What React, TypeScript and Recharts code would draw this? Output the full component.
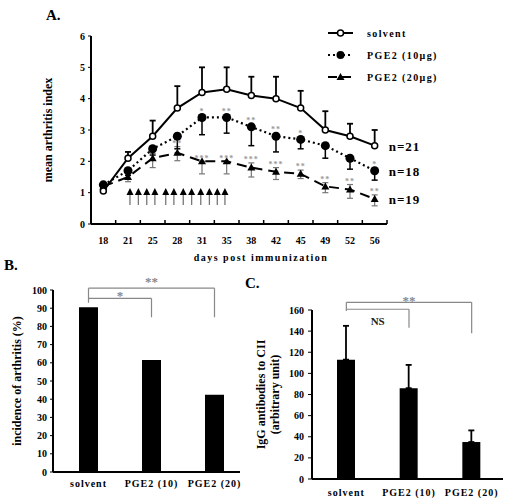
import React from 'react';
import {
  ComposedChart, Line, Scatter, XAxis, YAxis, ErrorBar, LabelList, Legend,
  BarChart, Bar, ReferenceLine,
} from 'recharts';

// ---- panel A: mean arthritis index over time ----
const days = ['18', '21', '25', '28', '31', '35', '38', '42', '45', '49', '52', '56'];
const solvent = [1.05, 2.1, 2.8, 3.7, 4.2, 4.3, 4.1, 4.0, 3.7, 3.0, 2.8, 2.5];
const solventSem = [0.1, 0.2, 0.5, 0.7, 0.8, 0.7, 0.6, 0.7, 0.55, 0.6, 0.4, 0.5];
const pge10 = [1.25, 1.7, 2.4, 2.8, 3.4, 3.4, 3.1, 2.8, 2.7, 2.5, 2.1, 1.7];
const pge10Sem = [0.1, 0.15, 0.2, 0.4, 0.55, 0.5, 0.6, 0.5, 0.3, 0.4, 0.35, 0.3];
const pge20 = [1.2, 1.5, 2.1, 2.27, 2.0, 2.0, 1.8, 1.67, 1.6, 1.2, 1.1, 0.8];
const pge20Low = [0.05, 0.15, 0.3, 0.25, 0.4, 0.4, 0.3, 0.25, 0.15, 0.2, 0.28, 0.22];
const pge20High = [0.05, 0.1, 0.15, 0.2, 0, 0, 0.15, 0.13, 0.12, 0.12, 0.16, 0.13];
const stars10 = ['', '', '', '', '*', '**', '**', '**', '*', '', '', '*'];
const stars20 = ['', '', '', '**', '***', '***', '***', '***', '**', '**', '**', '**'];
const groupN = [21, 18, 19];
// injection arrows, in category-index units along the day axis
const injectionPos = [1.08, 1.42, 1.76, 2.09, 2.53, 2.86, 3.24, 3.58, 3.95, 4.3, 4.62, 4.93];

// ---- panel B: incidence ----
const groups = ['solvent', 'PGE2 (10)', 'PGE2 (20)'];
const incidence = [90.5, 61.5, 42.5];

// ---- panel C: IgG anti-CII ----
const igg = [113, 86, 35];
const iggSem = [32, 22, 11];

const last = days.length - 1;
const arthritisRows = days.map((d, i) => ({
  idx: i,
  day: d,
  solvent: solvent[i],
  solventErr: [0, solventSem[i]],
  pge10: pge10[i],
  pge10Err: [pge10Sem[i], 0],
  pge20: pge20[i],
  pge20Err: [pge20Low[i], pge20High[i]],
  star10: stars10[i],
  star10Y: pge10[i] + 0.22,
  star20: stars20[i],
  star20Y: pge20[i] + pge20High[i] + 0.12,
  nSolvent: i === last ? `n=${groupN[0]}` : '',
  n10: i === last ? `n=${groupN[1]}` : '',
  n20: i === last ? `n=${groupN[2]}` : '',
}));
const arrowRows = injectionPos.map((p) => ({ idx: p, y: 1.15 }));
const dayTicks = days.flatMap((_, i) => [i - 0.5, i]).concat(days.length - 0.5);

const incidenceRows = groups.map((g, i) => ({ name: g, incidence: incidence[i] }));
const iggRows = groups.map((g, i) => ({ name: g, igg: igg[i], err: [0, iggSem[i]] }));

const FONT = "'Liberation Serif', 'DejaVu Serif', serif";
const axisLine = { stroke: '#000', strokeWidth: 2 };
const tickStyle = { fontSize: 10, fill: '#000', fontWeight: 'bold', fontFamily: FONT };

const DayTick = (props: any) => {
  const { x, y, payload } = props;
  const v = payload.value;
  if (Number.isInteger(v)) {
    return (
      <text x={x} y={y + 20} textAnchor="middle" fontSize={10} fontWeight="bold" fill="#000" fontFamily={FONT}>
        {days[v]}
      </text>
    );
  }
  return <line x1={x} x2={x} y1={y - 4} y2={y} stroke="#000" strokeWidth={1.5} />;
};

const CatTick = (props: any) => {
  const { x, y, payload } = props;
  return (
    <text x={x} y={y + 7} textAnchor="middle" fontSize={10} fontWeight="bold" fill="#000"
      fontFamily={FONT} letterSpacing={1}>
      {payload.value}
    </text>
  );
};

const YTitle = (props: any) => {
  const { viewBox, lines, dx, size } = props;
  const cx = viewBox.x + dx;
  const cy = viewBox.y + viewBox.height / 2;
  return (
    <text x={cx} y={cy} transform={`rotate(-90 ${cx} ${cy})`} textAnchor="middle" fontSize={size}
      fontWeight="bold" fill="#000" fontFamily={FONT}>
      {lines.map((l: string, i: number) => (
        <tspan key={l} x={cx} dy={i === 0 ? 0 : 14}>{l}</tspan>
      ))}
    </text>
  );
};

const XTitle = (props: any) => {
  const { viewBox } = props;
  return (
    <text x={viewBox.x + viewBox.width / 2 + 22} y={viewBox.y + 37} textAnchor="middle" fontSize={10}
      fontWeight="bold" fill="#000" fontFamily={FONT} letterSpacing={1.5}>
      days post immunization
    </text>
  );
};

const StarText = (props: any) => {
  const { x, y, value } = props;
  if (!value) return null;
  return (
    <text x={x} y={y + 3} textAnchor="middle" fontSize={8} fill="#999" fontFamily={FONT} letterSpacing={1}>
      {value}
    </text>
  );
};

const NText = (props: any) => {
  const { x, y, value } = props;
  if (!value) return null;
  return (
    <text x={x + 14} y={y + 5} fontSize={13} fontWeight="bold" fill="#000" fontFamily={FONT} letterSpacing={1}>
      {value}
    </text>
  );
};

const TriangleDot = (props: any) => {
  const { cx, cy } = props;
  return <polygon points={`${cx},${cy - 4} ${cx - 4},${cy + 3} ${cx + 4},${cy + 3}`} fill="#000" />;
};

const InjectionArrow = (props: any) => {
  const { cx, cy } = props;
  return (
    <g>
      <line x1={cx} x2={cx} y1={cy + 5} y2={cy + 17} stroke="#777" strokeWidth={1.3} />
      <polygon points={`${cx},${cy} ${cx - 3.5},${cy + 7} ${cx + 3.5},${cy + 7}`} fill="#000" />
    </g>
  );
};

const legendItems = [
  { name: 'solvent', dash: undefined, marker: 'open' },
  { name: 'PGE2 (10μg)', dash: '2 3', marker: 'dot' },
  { name: 'PGE2 (20μg)', dash: '9 5', marker: 'tri' },
];

const ArthritisLegend = () => (
  <svg width={184} height={70}>
    {legendItems.map((it, i) => {
      const cy = 11 + 22 * i;
      return (
        <g key={it.name}>
          <line x1={6} x2={31} y1={cy} y2={cy} stroke="#000" strokeWidth={2} strokeDasharray={it.dash} />
          {it.marker === 'open' && <circle cx={18.5} cy={cy} r={3} fill="#fff" stroke="#000" strokeWidth={1.5} />}
          {it.marker === 'dot' && <circle cx={18.5} cy={cy} r={4} fill="#000" />}
          {it.marker === 'tri' && <TriangleDot cx={18.5} cy={cy} />}
          <text x={45} y={cy + 4} fontSize={10} fontWeight="bold" fill="#000" fontFamily={FONT} letterSpacing={1.4}>
            {it.name}
          </text>
        </g>
      );
    })}
  </svg>
);

const bracket = { stroke: '#888', strokeWidth: 1.2, ifOverflow: 'visible' as const };

export default function App() {
  return (
    <div style={{ position: 'absolute', left: 0, top: 0, width: 506, height: 498, background: '#fff', fontFamily: FONT, fontWeight: 'bold' }}>
      <div style={{ position: 'absolute', left: 0, top: 0 }}>
        <ComposedChart width={506} height={272} data={arthritisRows} margin={{ top: 36, right: 119, left: 40, bottom: 8 }}>
          <XAxis dataKey="idx" type="number" domain={[-0.5, 11.5]} ticks={dayTicks} interval={0}
            tick={<DayTick />} tickLine={false} tickSize={0} tickMargin={0} height={40} axisLine={axisLine}
            label={<XTitle />} />
          <YAxis domain={[0, 6]} ticks={[0, 1, 2, 3, 4, 5, 6]} width={51} tick={tickStyle} tickSize={3} tickMargin={3}
            tickLine={{ stroke: '#000' }} axisLine={axisLine}
            label={<YTitle lines={['mean arthritis index']} dx={12} size={12} />} />
          <Legend layout="horizontal" verticalAlign="middle" align="center" content={<ArthritisLegend />}
            wrapperStyle={{ left: 322, top: 22, width: 184, height: 70 }} />
          <Scatter data={arrowRows} dataKey="y" shape={<InjectionArrow />} isAnimationActive={false} legendType="none" />
          <Line dataKey="pge20" stroke="#000" strokeWidth={2} strokeDasharray="10 6" dot={<TriangleDot />}
            activeDot={false} isAnimationActive={false}>
            <ErrorBar dataKey="pge20Err" width={3} stroke="#777" strokeWidth={1.2} />
            <LabelList dataKey="n20" content={<NText />} />
          </Line>
          <Line dataKey="pge10" stroke="#000" strokeWidth={2.2} strokeDasharray="2 3"
            dot={{ r: 4.5, fill: '#000', stroke: '#000', strokeWidth: 0 }} activeDot={false} isAnimationActive={false}>
            <ErrorBar dataKey="pge10Err" width={3} stroke="#000" strokeWidth={1.5} />
            <LabelList dataKey="n10" content={<NText />} />
          </Line>
          <Line dataKey="solvent" stroke="#000" strokeWidth={2}
            dot={{ r: 3, fill: '#fff', stroke: '#000', strokeWidth: 1.5 }} activeDot={false} isAnimationActive={false}>
            <ErrorBar dataKey="solventErr" width={3} stroke="#000" strokeWidth={1.8} />
            <LabelList dataKey="nSolvent" content={<NText />} />
          </Line>
          <Line dataKey="star10Y" stroke="none" dot={false} activeDot={false} isAnimationActive={false} legendType="none">
            <LabelList dataKey="star10" content={<StarText />} />
          </Line>
          <Line dataKey="star20Y" stroke="none" dot={false} activeDot={false} isAnimationActive={false} legendType="none">
            <LabelList dataKey="star20" content={<StarText />} />
          </Line>
        </ComposedChart>
      </div>

      <div style={{ position: 'absolute', left: 0, top: 250 }}>
        <BarChart width={250} height={248} data={incidenceRows} margin={{ top: 40, right: 10, left: 10, bottom: 4 }}>
          <XAxis dataKey="name" tick={<CatTick />} tickLine={false} tickSize={0} tickMargin={8} height={22}
            interval={0} axisLine={axisLine} padding={{ left: 4, right: -6 }} />
          <YAxis domain={[0, 100]} ticks={[0, 10, 20, 30, 40, 50, 60, 70, 80, 90, 100]} width={43} tick={tickStyle}
            tickSize={3} tickMargin={3} tickLine={{ stroke: '#000' }} axisLine={axisLine}
            label={<YTitle lines={['incidence of arthritis (%)']} dx={11} size={12} />} />
          <Bar dataKey="incidence" fill="#000" barSize={19} isAnimationActive={false} />
          <ReferenceLine segment={[{ x: 'solvent', y: 101 }, { x: 'PGE2 (20)', y: 101 }]} {...bracket}
            label={{ value: '**', position: 'top', offset: 2, fill: '#888', fontSize: 13 }} />
          <ReferenceLine segment={[{ x: 'solvent', y: 101 }, { x: 'solvent', y: 93 }]} {...bracket} />
          <ReferenceLine segment={[{ x: 'PGE2 (20)', y: 101 }, { x: 'PGE2 (20)', y: 85 }]} {...bracket} />
          <ReferenceLine segment={[{ x: 'solvent', y: 95.4 }, { x: 'PGE2 (10)', y: 95.4 }]} {...bracket}
            label={{ value: '*', position: 'top', offset: -2, fill: '#888', fontSize: 13 }} />
          <ReferenceLine segment={[{ x: 'PGE2 (10)', y: 95.4 }, { x: 'PGE2 (10)', y: 85 }]} {...bracket} />
        </BarChart>
      </div>

      <div style={{ position: 'absolute', left: 240, top: 250 }}>
        <BarChart width={266} height={248} data={iggRows} margin={{ top: 60, right: 3, left: 10, bottom: 1 }}>
          <XAxis dataKey="name" tick={<CatTick />} tickLine={false} tickSize={0} tickMargin={10} height={18}
            interval={0} axisLine={axisLine} padding={{ left: 3, right: 0 }} />
          <YAxis domain={[0, 160]} ticks={[0, 20, 40, 60, 80, 100, 120, 140, 160]} width={62} tick={tickStyle}
            tickSize={4} tickMargin={4} tickLine={{ stroke: '#000' }} axisLine={axisLine}
            label={<YTitle lines={['IgG antibodies to CII', '(arbitrary unit)']} dx={15} size={12} />} />
          <Bar dataKey="igg" fill="#000" barSize={18} isAnimationActive={false}>
            <ErrorBar dataKey="err" width={3} stroke="#000" strokeWidth={1.8} />
          </Bar>
          <ReferenceLine segment={[{ x: 'solvent', y: 167.3 }, { x: 'PGE2 (20)', y: 167.3 }]} {...bracket}
            label={{ value: '**', position: 'top', offset: -3, fill: '#888', fontSize: 13 }} />
          <ReferenceLine segment={[{ x: 'solvent', y: 167.3 }, { x: 'solvent', y: 159 }]} {...bracket} />
          <ReferenceLine segment={[{ x: 'PGE2 (20)', y: 167.3 }, { x: 'PGE2 (20)', y: 138 }]} {...bracket} />
          <ReferenceLine segment={[{ x: 'solvent', y: 160.7 }, { x: 'PGE2 (10)', y: 160.7 }]} {...bracket}
            label={{ value: 'NS', position: 'bottom', offset: 7.5, fill: '#222', fontSize: 11, fontWeight: 'bold' }} />
          <ReferenceLine segment={[{ x: 'PGE2 (10)', y: 160.7 }, { x: 'PGE2 (10)', y: 143.3 }]} {...bracket} />
        </BarChart>
      </div>

      <svg width={506} height={498} style={{ position: 'absolute', left: 0, top: 0, pointerEvents: 'none' }}>
        <text x={46} y={20} fontSize={15} fontWeight="bold" fontFamily={FONT}>A.</text>
        <text x={4} y={270} fontSize={15} fontWeight="bold" fontFamily={FONT}>B.</text>
        <text x={245} y={288} fontSize={15} fontWeight="bold" fontFamily={FONT}>C.</text>
      </svg>
    </div>
  );
}
